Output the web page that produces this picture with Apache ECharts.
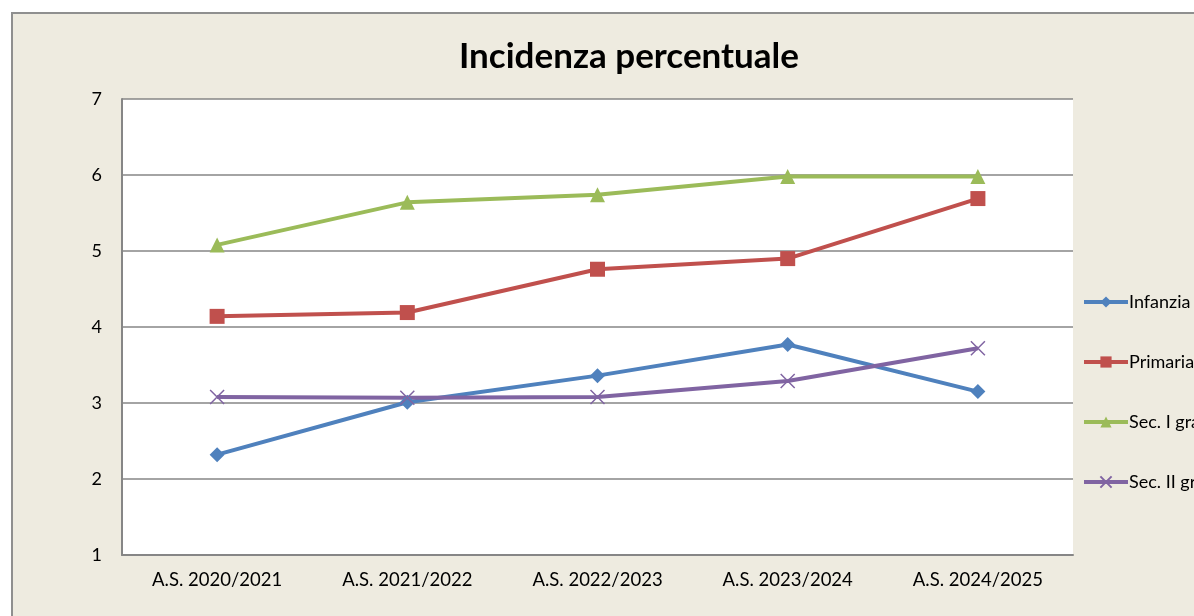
<!DOCTYPE html>
<html>
<head>
<meta charset="utf-8">
<script src="https://cdn.jsdelivr.net/npm/echarts@6/dist/echarts.min.js"></script>
<style>
  html, body { margin: 0; padding: 0; background: #fff; overflow: hidden; }
  #frame { position: absolute; left: 11px; top: 12px; width: 1200px; height: 620px;
           background: #eeebe0; border: 2px solid #8f8f8f; }
  #chart { position: absolute; left: 0; top: 0; width: 1194px; height: 616px; }
</style>
</head>
<body>
<div id="frame"></div>
<div id="chart"></div>
<script>
// anni scolastici
const categories = ["A.S. 2020/2021", "A.S. 2021/2022", "A.S. 2022/2023", "A.S. 2023/2024", "A.S. 2024/2025"];
const infanzia = [2.32, 3.01, 3.36, 3.77, 3.15];
const primaria = [4.14, 4.19, 4.76, 4.90, 5.69];
const secPrimo = [5.08, 5.64, 5.74, 5.98, 5.98];
const secSecondo = [3.08, 3.07, 3.08, 3.29, 3.72];
const seriesNames = ["Infanzia", "Primaria", "Sec. I grado", "Sec. II grado"];

const FONT = "Lato, 'Open Sans', sans-serif";

const chart = echarts.init(document.getElementById("chart"), null, { renderer: "canvas" });

function lineSeries(name, data, color, symbol, size, extra) {
  return Object.assign({
    name, type: "line", data,
    symbol, symbolSize: size,
    showSymbol: true,
    lineStyle: { color, width: 4 },
    itemStyle: { color },
    z: 3
  }, extra || {});
}

chart.setOption({
  backgroundColor: "transparent",
  animation: false,
  title: {
    text: "Incidenza percentuale",
    left: 624, top: 34, textAlign: "center",
    textStyle: { fontFamily: FONT, fontSize: 35, fontWeight: "bold", color: "#000" }
  },
  grid: {
    left: 122, top: 99, width: 951, height: 456,
    show: true, backgroundColor: "#fff", borderWidth: 0
  },
  legend: {
    orient: "vertical",
    left: 1077, top: 288,
    itemGap: 42, itemWidth: 44, itemHeight: 14,
    data: seriesNames,
    lineStyle: { width: 4 },
    textStyle: { fontFamily: FONT, fontSize: 18, color: "#000", padding: [0, 0, 0, -4] }
  },
  xAxis: {
    type: "category",
    data: categories,
    boundaryGap: true,
    axisLine: { lineStyle: { color: "#868686", width: 2 } },
    axisTick: { show: false },
    axisLabel: { fontFamily: FONT, fontSize: 18.5, color: "#000", margin: 16 }
  },
  yAxis: {
    type: "value",
    min: 1, max: 7, interval: 1,
    axisLine: { show: true, lineStyle: { color: "#868686", width: 2 } },
    axisTick: { show: false },
    axisLabel: { fontFamily: FONT, fontSize: 18, color: "#000", margin: 20 },
    splitLine: { lineStyle: { color: "#868686", width: 1.5 } }
  },
  series: [
    lineSeries(seriesNames[0], infanzia, "#4f81bd", "diamond", 15),
    lineSeries(seriesNames[1], primaria, "#c0504d", "rect", 15),
    lineSeries(seriesNames[2], secPrimo, "#9bbb59", "triangle", 15),
    lineSeries(seriesNames[3], secSecondo, "#8064a2", "path://M0,0L10,10M10,0L0,10", 14, {
      itemStyle: { color: "none", borderColor: "#8064a2", borderWidth: 1.5 }
    })
  ]
});
</script>
</body>
</html>
